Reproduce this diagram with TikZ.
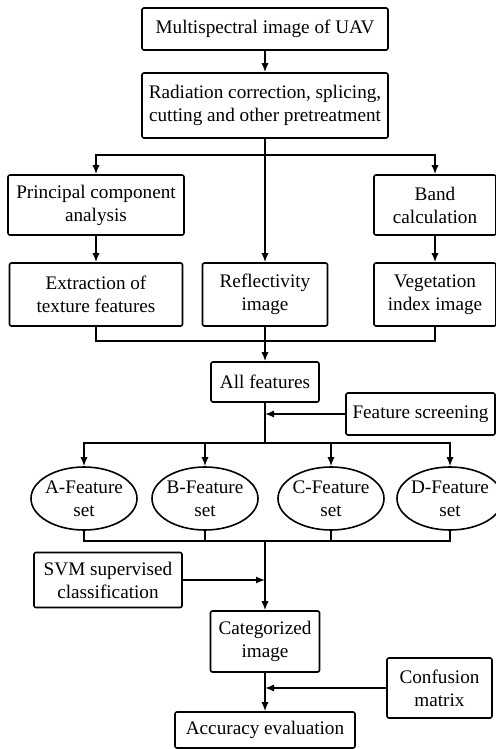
\documentclass[tikz,border=0pt]{standalone}
\usepackage{fontspec}
\setmainfont{Liberation Serif}
\usetikzlibrary{arrows.meta,shapes.geometric}

\begin{document}
\begin{tikzpicture}[->,>={Latex[length=4.5pt,width=3.6pt]},x=0.5pt,y=-0.5pt,line width=0.8pt,
	main/.style={shape=rectangle, draw=black, rounded corners=1pt, align=center, inner sep=0pt, font=\fontsize{9.6}{11.5}\selectfont},
	oval/.style={shape=ellipse, draw=black, align=center, inner sep=-1pt, font=\fontsize{9.6}{11.5}\selectfont}];
	\useasboundingbox (0,0) rectangle (496,749);
	\node[main, minimum width=123pt, minimum height=21pt] (1) at (265,29) {Multispectral image of UAV};
	\node[main, minimum width=123pt, minimum height=32.5pt] (2) at (265,105.5) {Radiation correction, splicing,\\cutting and other pretreatment};
	\node[main, minimum width=88pt, minimum height=30pt] (3) at (96,205) {Principal component\\analysis};
	\node[main, minimum width=61pt, minimum height=30pt] (4) at (435,205) {Band\\calculation};
	
	\node[main, minimum width=86.5pt, minimum height=31.5pt] (5) at (96,294.5) {Extraction of\\texture features};
	\node[main, minimum width=62.5pt, minimum height=31.5pt] (6) at (265,294.5) {Reflectivity\\image};
	\node[main, minimum width=61pt, minimum height=31.5pt] (7) at (435,294.5) {Vegetation\\index image};
	
	\node[main, minimum width=54pt, minimum height=20pt] (8) at (265,382) {All features};
	\node[main, minimum width=74.5pt, minimum height=21pt] (9) at (420.5,414) {Feature screening};
	
	\node[oval, minimum width=53pt, minimum height=31.5pt] (10) at (84,498.5) {A-Feature\\set};
	\node[oval, minimum width=53pt, minimum height=31.5pt] (11) at (205,498.5) {B-Feature\\set};
	\node[oval, minimum width=53pt, minimum height=31.5pt] (12) at (331,498.5) {C-Feature\\set};
	\node[oval, minimum width=53pt, minimum height=31.5pt] (13) at (450,498.5) {D-Feature\\set};
	
	\node[main, minimum width=74pt, minimum height=27.5pt] (14) at (108,580) {SVM supervised\\classification};
	\node[main, minimum width=54.5pt, minimum height=30.5pt] (15) at (265,641.5) {Categorized\\image};
	\node[main, minimum width=52.5pt, minimum height=30pt] (16) at (439.5,688) {Confusion\\matrix};
	\node[main, minimum width=90pt, minimum height=18pt] (17) at (265,730) {Accuracy evaluation};
	
	\coordinate (s1) at (265,155);
	\coordinate (m1) at (265,341);
	\coordinate (s2) at (265,443);
	\coordinate (m2) at (265,541);
	
	\draw (1) -- (2);
	\draw (2) -- (6);
	\draw (s1) -| (3);
	\draw (s1) -| (4);
	\draw (3) -- (5);
	\draw (4) -- (7);
	\draw[-] (5) |- (m1) -| (7);
	\draw (6) -- (8);
	\draw[-] (8) -- (s2);
	\draw (9) -- (8 |- 9);
	\draw (s2) -| (10);
	\draw (s2) -| (11);
	\draw (s2) -| (12);
	\draw (s2) -| (13);
	\draw[-] (10) |- (m2) -| (13);
	\draw[-] (11) |- (m2);
	\draw[-] (12) |- (m2);
	\draw (m2) -- (15);
	\draw (14) -- (15 |- 14);
	\draw (15) -- (17);
	\draw (16) -- (15 |- 16);
\end{tikzpicture}
\end{document}
